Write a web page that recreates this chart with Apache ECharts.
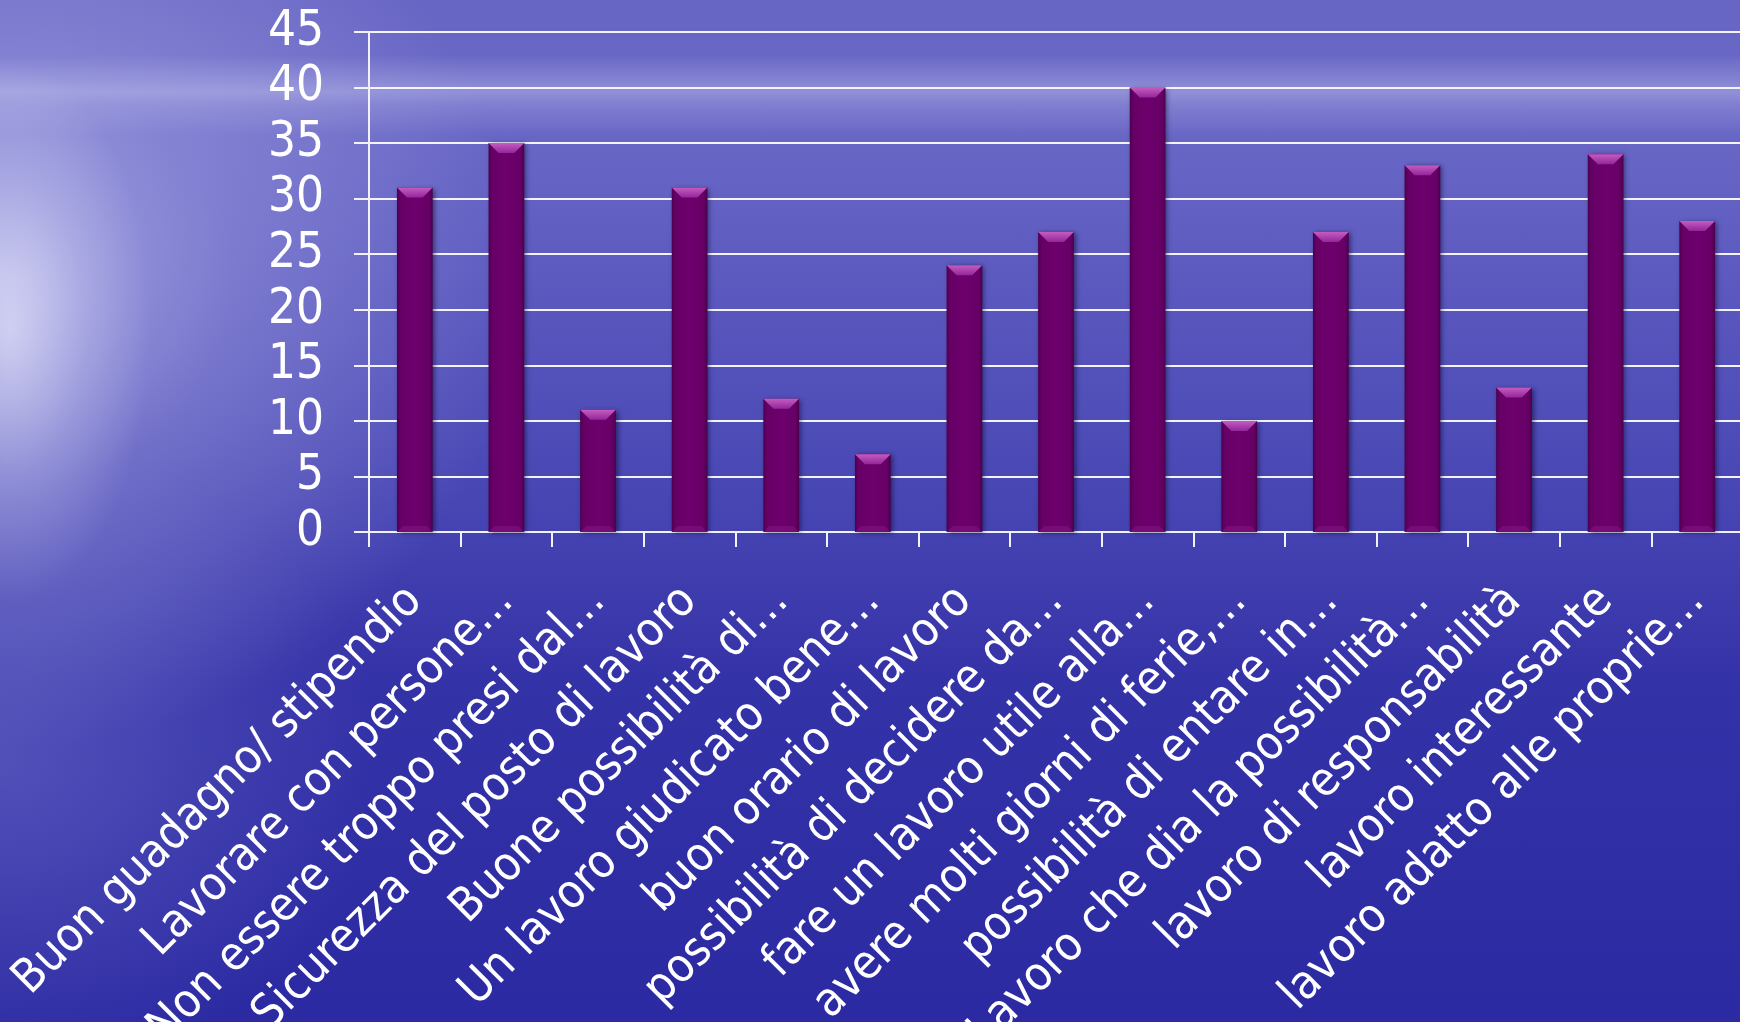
<!DOCTYPE html>
<html>
<head>
<meta charset="utf-8">
<script src="https://cdn.jsdelivr.net/npm/echarts@6/dist/echarts.min.js"></script>
<style>
html,body{margin:0;padding:0;width:1740px;height:1022px;overflow:hidden;}
#bg{position:absolute;left:0;top:0;width:1740px;height:1022px;
background:
 radial-gradient(ellipse 140px 270px at 10px 330px, rgba(242,242,255,0.6), rgba(225,225,250,0.25) 55%, rgba(210,210,245,0) 100%),
 linear-gradient(to bottom, rgba(255,255,255,0) 55px, rgba(200,200,240,0.42) 92px, rgba(200,200,240,0.22) 106px, rgba(255,255,255,0) 135px),
 radial-gradient(ellipse 520px 470px at 0px 280px, rgba(195,195,240,0.72), rgba(180,180,235,0.35) 45%, rgba(170,170,230,0) 100%),
 radial-gradient(ellipse 380px 320px at 0px 760px, rgba(130,130,215,0.4), rgba(130,130,215,0) 100%),
 linear-gradient(to bottom, #6866c4 0px, #6a68c6 120px, #5a58be 300px, #4644b2 520px, #3432a7 680px, #2c2aa2 1022px);
}
#chart{position:absolute;left:0;top:0;width:1740px;height:1022px;}
</style>
</head>
<body>
<div id="bg"></div>
<div id="chart"></div>
<script>
const categories = [
  "Buon guadagno/ stipendio",
  "Lavorare con persone…",
  "Non essere troppo presi dal…",
  "Sicurezza del posto di lavoro",
  "Buone possibilità di…",
  "Un lavoro giudicato bene…",
  "buon orario di lavoro",
  "possibilità di decidere da…",
  "fare un lavoro utile alla…",
  "avere molti giorni di ferie,…",
  "possibilità di entare in…",
  "Lavoro che dia la possibilità…",
  "lavoro di responsabilità",
  "lavoro interessante",
  "lavoro adatto alle proprie…"
];
const values = [31, 35, 11, 31, 12, 7, 24, 27, 40, 10, 27, 33, 13, 34, 28];
const yTicks = [0, 5, 10, 15, 20, 25, 30, 35, 40, 45];

const chart = echarts.init(document.getElementById('chart'), null, {renderer: 'canvas'});
const FONT = '"DejaVu Sans Condensed", "DejaVu Sans", sans-serif';

const bodyFill = new echarts.graphic.LinearGradient(0, 0, 1, 0, [
  {offset: 0, color: '#4d004d'},
  {offset: 0.1, color: '#660066'},
  {offset: 0.5, color: '#6e006d'},
  {offset: 0.9, color: '#660066'},
  {offset: 1, color: '#48004a'}
]);
const capFill = new echarts.graphic.LinearGradient(0, 0, 0, 1, [
  {offset: 0, color: '#c45cc0'},
  {offset: 1, color: '#94269a'}
]);

chart.setOption({
  backgroundColor: 'transparent',
  animation: false,
  grid: {left: 369, right: -3, top: 32, bottom: 490, containLabel: false, outerBoundsMode: 'none'},
  xAxis: {
    type: 'category',
    data: categories,
    boundaryGap: true,
    axisLine: {show: true, lineStyle: {color: '#f2f2ff', width: 2}},
    axisTick: {show: true, length: 15, alignWithLabel: false, lineStyle: {color: '#f2f2ff', width: 2}},
    axisLabel: {
      interval: 0, rotate: 45, margin: 62,
      color: '#ffffff', fontFamily: FONT, fontSize: 47
    },
    splitLine: {show: false}
  },
  yAxis: {
    type: 'value',
    min: yTicks[0], max: yTicks[yTicks.length - 1], interval: 5,
    axisLine: {show: true, lineStyle: {color: '#f2f2ff', width: 2}},
    axisTick: {show: true, length: 15, lineStyle: {color: '#f2f2ff', width: 2}},
    axisLabel: {color: '#ffffff', fontFamily: FONT, fontSize: 49, margin: 45},
    splitLine: {show: true, lineStyle: {color: '#f4f4fe', width: 2}}
  },
  series: [{
    type: 'custom',
    data: values.map((v, i) => [i, v]),
    encode: {x: 0, y: 1},
    renderItem: function (params, api) {
      const idx = api.value(0);
      const v = api.value(1);
      const top = api.coord([idx, v]);
      const base = api.coord([idx, 0]);
      const w = api.size([1, 0])[0] * 0.39;
      const x = top[0] - w / 2;
      const y = top[1];
      const h = base[1] - top[1];
      const b = Math.min(10, h / 2);
      return {
        type: 'group',
        children: [
          {type: 'rect', shape: {x: x, y: y, width: w, height: h},
           style: {fill: bodyFill, shadowBlur: 5, shadowColor: 'rgba(10,0,40,0.55)', shadowOffsetX: 2, shadowOffsetY: 1}},
          {type: 'polygon', shape: {points: [[x, y], [x + w, y], [x + w - b, y + b], [x + b, y + b]]},
           style: {fill: capFill}},
          {type: 'polygon', shape: {points: [[x, y + h], [x + w, y + h], [x + w - 6, y + h - 6], [x + 6, y + h - 6]]},
           style: {fill: 'rgba(140,30,140,0.4)'}}
        ]
      };
    }
  }]
});
</script>
</body>
</html>
